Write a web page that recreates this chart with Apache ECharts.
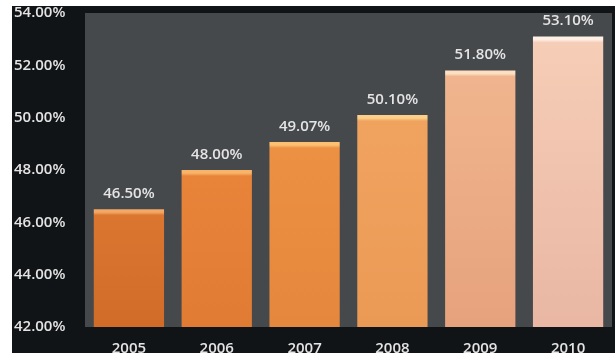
<!DOCTYPE html>
<html>
<head>
<meta charset="utf-8">
<script src="https://cdn.jsdelivr.net/npm/echarts@6/dist/echarts.min.js"></script>
<style>
  html, body { margin: 0; padding: 0; background: #ffffff; }
  #chart { width: 615px; height: 353px; }
</style>
</head>
<body>
<div id="chart"></div>
<script>
// Share by year
const years = ['2005', '2006', '2007', '2008', '2009', '2010'];
const shares = [46.5, 48.0, 49.07, 50.1, 51.8, 53.1];
const yTicks = [42, 44, 46, 48, 50, 52, 54];

// Bar palette: [top highlight, upper body, lower body]
const palette = [
  ['#f3a865', '#da7630', '#d06c28'],
  ['#f8b569', '#e8843a', '#df7b33'],
  ['#fbc072', '#ec9043', '#e5883d'],
  ['#fdd08a', '#f0a35f', '#eb9a55'],
  ['#fde0c4', '#f0b58e', '#e6a27c'],
  ['#fff0e6', '#f6cdb6', '#e9b7a4']
];

const yMin = yTicks[0];
const yMax = yTicks[yTicks.length - 1];
const gridTop = 13, gridBottom = 26, chartH = 353;
const plotH = chartH - gridTop - gridBottom;

const chart = echarts.init(document.getElementById('chart'));

const barData = shares.map((v, i) => {
  const h = (v - yMin) / (yMax - yMin) * plotH;
  const cap = Math.min(0.08, 3 / h);
  const c = palette[i];
  return {
    value: v,
    itemStyle: {
      color: new echarts.graphic.LinearGradient(0, 0, 0, 1, [
        { offset: 0, color: c[0] },
        { offset: cap, color: c[0] },
        { offset: cap * 2, color: c[1] },
        { offset: 1, color: c[2] }
      ])
    }
  };
});

const textStyle = { color: '#e4e4e4', fontSize: 15, fontWeight: 600, fontFamily: 'Open Sans' };

chart.setOption({
  backgroundColor: '#ffffff',
  animation: false,
  graphic: [{
    type: 'rect',
    z: -10,
    silent: true,
    shape: { x: 12, y: 6, width: 603, height: 347 },
    style: { fill: '#111417' }
  }],
  grid: {
    left: 85, right: 3, top: gridTop, bottom: gridBottom,
    outerBoundsMode: 'none', containLabel: false,
    show: true, backgroundColor: '#46494c', borderWidth: 0
  },
  xAxis: {
    type: 'category',
    data: years,
    axisLine: { show: false },
    axisTick: { show: false },
    axisLabel: Object.assign({ margin: 14 }, textStyle)
  },
  yAxis: {
    type: 'value',
    min: yMin, max: yMax, interval: 2,
    splitLine: { show: false },
    axisLine: { show: false },
    axisTick: { show: false },
    axisLabel: Object.assign({
      align: 'left', margin: 71,
      formatter: v => v.toFixed(2) + '%'
    }, textStyle)
  },
  series: [{
    type: 'bar',
    data: barData,
    barCategoryGap: '20%',
    label: Object.assign({
      show: true, position: 'top', distance: 8,
      formatter: p => p.value.toFixed(2) + '%'
    }, textStyle)
  }]
});
</script>
</body>
</html>
